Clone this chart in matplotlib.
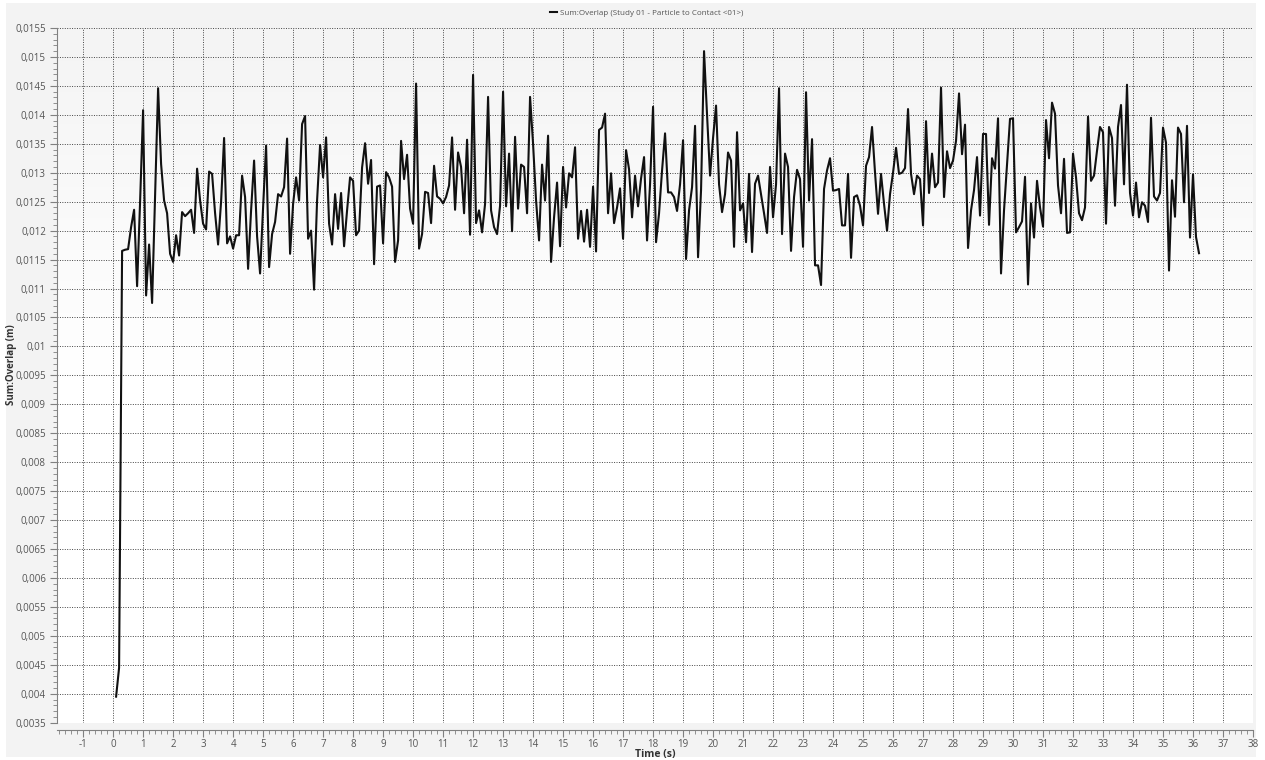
import matplotlib
matplotlib.use("Agg")
import matplotlib.pyplot as plt
import numpy as np
from matplotlib.colors import LinearSegmentedColormap
from matplotlib.patches import Rectangle
from matplotlib.ticker import MultipleLocator, FuncFormatter

plt.rcParams["font.family"] = ["Open Sans", "DejaVu Sans"]

# --- data: summed particle overlap, sampled every 0.1 s ---
overlap = [
    0.00395, 0.00445, 0.01165, 0.01167, 0.01168, 0.01206, 0.01236, 0.01104, 0.0125, 0.01408,
    0.01088, 0.01176, 0.01075, 0.0126, 0.01446, 0.01315, 0.01252, 0.0123, 0.0116, 0.01146,
    0.01192, 0.01157, 0.01232, 0.01225, 0.0123, 0.01236, 0.01196, 0.01307, 0.01252, 0.01212,
    0.01202, 0.01302, 0.01298, 0.0123, 0.01176, 0.0125, 0.0136, 0.01178, 0.0119, 0.01169,
    0.01192, 0.01192, 0.01295, 0.01258, 0.01134, 0.01235, 0.01321, 0.0119, 0.01126, 0.0124,
    0.01347, 0.01137, 0.01194, 0.01215, 0.01263, 0.01259, 0.01275, 0.01359, 0.0116, 0.01246,
    0.01292, 0.01252, 0.01384, 0.01398, 0.01186, 0.012, 0.01098, 0.01252, 0.01348, 0.01292,
    0.01361, 0.01212, 0.01176, 0.01263, 0.01203, 0.01265, 0.01173, 0.01235, 0.01292, 0.01286,
    0.01192, 0.012, 0.01309, 0.01351, 0.01281, 0.01322, 0.01142, 0.01276, 0.01278, 0.01178,
    0.01301, 0.01292, 0.01276, 0.01146, 0.01183, 0.01355, 0.01289, 0.01331, 0.01238, 0.01212,
    0.01454, 0.01169, 0.01194, 0.01267, 0.01265, 0.01213, 0.01312, 0.01259, 0.01255, 0.01247,
    0.01258, 0.01278, 0.01361, 0.01236, 0.01335, 0.0131, 0.0123, 0.01357, 0.01193, 0.01469,
    0.01213, 0.01235, 0.01197, 0.01246, 0.01431, 0.01235, 0.01206, 0.01194, 0.01243, 0.0144,
    0.01242, 0.01333, 0.01199, 0.01362, 0.01238, 0.01314, 0.0131, 0.0123, 0.01431, 0.0135,
    0.01252, 0.01183, 0.01314, 0.01252, 0.01364, 0.01146, 0.01223, 0.01283, 0.01173, 0.0131,
    0.0124, 0.01299, 0.01292, 0.01344, 0.01186, 0.01234, 0.01181, 0.01236, 0.01172, 0.01276,
    0.01164, 0.01374, 0.01378, 0.01402, 0.0123, 0.01299, 0.01213, 0.0124, 0.01273, 0.01186,
    0.01339, 0.01306, 0.01223, 0.01295, 0.01242, 0.0129, 0.01327, 0.01183, 0.0128, 0.01414,
    0.0118, 0.0123, 0.01304, 0.01368, 0.01266, 0.01266, 0.01258, 0.01234, 0.0128, 0.01356,
    0.01151, 0.01235, 0.01275, 0.01381, 0.01154, 0.0127, 0.0151, 0.0140, 0.01295, 0.0136,
    0.01416, 0.0128, 0.01232, 0.01263, 0.01335, 0.01321, 0.01172, 0.0137, 0.01235, 0.01247,
    0.0118, 0.01298, 0.01163, 0.01281, 0.01295, 0.01263, 0.0123, 0.01196, 0.0131, 0.01223,
    0.0128, 0.01446, 0.01194, 0.01333, 0.0131, 0.01165, 0.01258, 0.01305, 0.01289, 0.01172,
    0.01439, 0.01252, 0.01358, 0.0114, 0.0114, 0.01106, 0.01272, 0.01304, 0.01325, 0.01269,
    0.0127, 0.01272, 0.01209, 0.01209, 0.01298, 0.01153, 0.01258, 0.01261, 0.01243, 0.01209,
    0.01312, 0.01327, 0.01379, 0.0130, 0.01229, 0.01298, 0.01246, 0.012, 0.01263, 0.0130,
    0.01343, 0.01298, 0.013, 0.01308, 0.0141, 0.01298, 0.01263, 0.01295, 0.01289, 0.01209,
    0.01389, 0.01265, 0.01333, 0.01275, 0.01283, 0.01447, 0.01258, 0.01337, 0.01308, 0.01321,
    0.01355, 0.01437, 0.01332, 0.01383, 0.0117, 0.01235, 0.0127, 0.01327, 0.01226, 0.01367,
    0.01367, 0.0121, 0.01325, 0.01307, 0.01394, 0.01126, 0.01235, 0.01315, 0.01393, 0.01394,
    0.01197, 0.01206, 0.01216, 0.01293, 0.01107, 0.01247, 0.01188, 0.01286, 0.0124, 0.01207,
    0.01391, 0.01325, 0.01421, 0.01402, 0.01278, 0.0123, 0.01324, 0.01196, 0.01197, 0.01333,
    0.01292, 0.0123, 0.01218, 0.0124, 0.01397, 0.01286, 0.01295, 0.01338, 0.01379, 0.0137,
    0.01212, 0.01379, 0.0136, 0.01243, 0.01379, 0.01417, 0.0128, 0.01452, 0.01265, 0.01226,
    0.01283, 0.01223, 0.01249, 0.01243, 0.01215, 0.01395, 0.01259, 0.01252, 0.01265, 0.01378,
    0.01352, 0.01131, 0.01287, 0.01224, 0.01378, 0.01367, 0.01249, 0.01381, 0.01188, 0.01297,
    0.01189, 0.01161,
]
time_s = np.round(np.arange(1, len(overlap) + 1) * 0.1, 1)

series_label = "Sum:Overlap (Study 01 - Particle to Contact <01>)"
x_range = (-1.87, 38)
y_range = (0.0035, 0.0155)

W, H = 1265, 760
fig = plt.figure(figsize=(W / 100, H / 100), dpi=100, facecolor="white")

# grey panel behind everything
fig.patches.append(Rectangle((6 / W, 3 / H), 1250 / W, 754 / H, transform=fig.transFigure,
                             facecolor="#f3f3f3", edgecolor="none", zorder=-10))

ax = fig.add_axes([57 / W, 1 - 722.7 / H, 1196 / W, 694.7 / H])
ax.set_xlim(*x_range)
ax.set_ylim(*y_range)
ax.patch.set_alpha(0)

# soft vertical shade in the plot area
shade = LinearSegmentedColormap.from_list("shade", ["#ffffff", "#ffffff", "#f4f4f4"])
ax.imshow(np.linspace(0, 1, 256).reshape(-1, 1), extent=[*x_range, *y_range],
          aspect="auto", cmap=shade, origin="lower", zorder=0, interpolation="bilinear")

ax.plot(time_s, overlap, color="#111111", lw=1.5, label=series_label, zorder=3)

for side in ("top", "right"):
    ax.spines[side].set_visible(False)
for side in ("left", "bottom"):
    ax.spines[side].set_color("#808080")
ax.spines["bottom"].set_position(("outward", 5))

ax.xaxis.set_major_locator(MultipleLocator(1))
ax.xaxis.set_minor_locator(MultipleLocator(0.2))
ax.yaxis.set_major_locator(MultipleLocator(0.0005))
ax.yaxis.set_minor_locator(MultipleLocator(0.0001))


def comma_fmt(v, pos):
    s = f"{round(v, 4):.4f}".rstrip("0").rstrip(".")
    return s.replace(".", ",")


ax.yaxis.set_major_formatter(FuncFormatter(comma_fmt))
ax.xaxis.set_major_formatter(FuncFormatter(lambda v, p: f"{int(round(v))}"))

ax.tick_params(which="major", length=5, color="#808080", labelsize=7, labelcolor="#555555", pad=3)
ax.tick_params(axis="x", which="major", pad=2)
ax.tick_params(which="minor", length=3, color="#808080")

ax.grid(True, which="major", linestyle=(0, (1, 1.5)), color="#444444", linewidth=0.7, zorder=1)
ax.set_axisbelow(True)

ax.set_ylabel("Sum:Overlap (m)", fontsize=7, fontweight="bold", color="#333333")
ax.yaxis.set_label_coords(-0.0336, 0.515)
ax.set_xlabel("Time (s)", fontsize=7.5, fontweight="bold", color="#333333")
ax.xaxis.set_label_coords(0.5, -0.0385)

fig.legend(loc="center", bbox_to_anchor=(647 / W, 1 - 13 / H), frameon=False, fontsize=5.8,
           handlelength=0.8, handletextpad=0.4, labelcolor="#555555")

fig.savefig("out.png", dpi=100, facecolor=fig.get_facecolor())
